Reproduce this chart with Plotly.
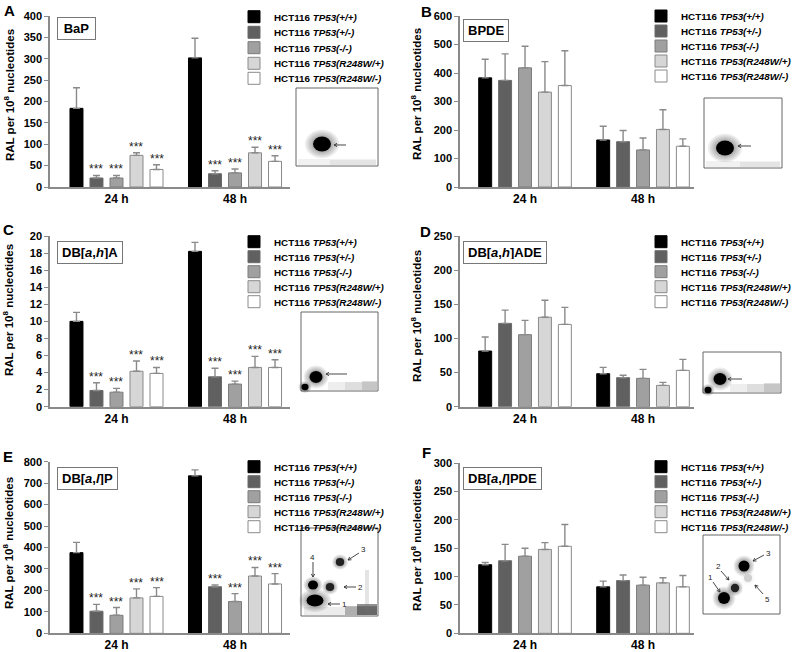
import math
import plotly.graph_objects as go

W, H = 793, 652
FONT = "Liberation Sans, Arial, sans-serif"

# ---------------- data ----------------
cell_lines = ["TP53(+/+)", "TP53(+/-)", "TP53(-/-)", "TP53(R248W/+)", "TP53(R248W/-)"]
time_points = ["24 h", "48 h"]

bap_24 = [184, 21, 21, 74, 41]
bap_24_sd = [48, 6, 6, 6, 11]
bap_48 = [302, 31, 33, 80, 60]
bap_48_sd = [46, 7, 9, 13, 13]
bap_sig = [False, True, True, True, True]

bpde_24 = [383, 374, 418, 333, 356]
bpde_24_sd = [65, 93, 76, 107, 122]
bpde_48 = [165, 159, 130, 202, 143]
bpde_48_sd = [48, 39, 42, 69, 26]
bpde_sig = [False, False, False, False, False]

dbaha_24 = [10.0, 1.9, 1.7, 4.15, 3.9]
dbaha_24_sd = [1.05, 0.9, 0.45, 1.2, 0.7]
dbaha_48 = [18.2, 3.5, 2.65, 4.6, 4.6]
dbaha_48_sd = [1.05, 1.0, 0.35, 1.3, 0.9]
dbaha_sig = [False, True, True, True, True]

dbahade_24 = [81.5, 122, 105.5, 131, 120.5]
dbahade_24_sd = [20.5, 19.5, 21, 25, 25]
dbahade_48 = [48.3, 42.5, 41.5, 31.2, 53.2]
dbahade_48_sd = [9.3, 3.5, 13.2, 4.4, 16.1]
dbahade_sig = [False, False, False, False, False]

dbalp_24 = [376, 103, 84, 165, 172]
dbalp_24_sd = [48, 32, 36, 42, 41]
dbalp_48 = [734, 217, 148, 267, 230]
dbalp_48_sd = [28, 8, 37, 40, 48]
dbalp_sig = [False, True, True, True, True]

dbalpde_24 = [121, 128, 136, 148, 153.5]
dbalpde_24_sd = [4, 29, 14, 12, 38.5]
dbalpde_48 = [82, 93, 85, 89, 82]
dbalpde_48_sd = [10, 10, 14, 9, 20]
dbalpde_sig = [False, False, False, False, False]

# ---------------- styling / layout config ----------------
bar_colors = ["#000000", "#606060", "#a0a0a0", "#d6d6d6", "#ffffff"]
bar_lines = ["#000000", "#6a6a6a", "#7c7c7c", "#8a8a8a", "#8a8a8a"]
AX = "#8a8a8a"
BARGAP = 0.156
BARGROUPGAP = 0.35

panels = [
    dict(letter="A", label="<b>BaP</b>", d24=bap_24, s24=bap_24_sd, d48=bap_48, s48=bap_48_sd, sig=bap_sig,
         ymax=400, dtick=50, px=(50, 290), py=(16, 187), xr=(-0.561, 1.464),
         let_xy=(9.5, 10), box_xy=(57, 17), box_w=29, title_xy=(9, 95),
         leg_x=234, leg_y=[16.7, 32.3, 47.7, 63.3, 78.3]),
    dict(letter="B", label="<b>BPDE</b>", d24=bpde_24, s24=bpde_24_sd, d48=bpde_48, s48=bpde_48_sd, sig=bpde_sig,
         ymax=600, dtick=100, px=(460, 694), py=(16, 187), xr=(-0.551, 1.432),
         let_xy=(426, 11), box_xy=(463, 19), box_w=None, title_xy=(416, 94),
         leg_x=641, leg_y=[16, 31, 46, 61, 76]),
    dict(letter="C", label="<b>DB[<i>a</i>,<i>h</i>]A</b>", d24=dbaha_24, s24=dbaha_24_sd, d48=dbaha_48, s48=dbaha_48_sd, sig=dbaha_sig,
         ymax=20, dtick=2, px=(50, 290), py=(236, 406.7), xr=(-0.561, 1.464),
         let_xy=(8, 229), box_xy=(57, 241), box_w=None, title_xy=(8, 310),
         leg_x=234, leg_y=[241.7, 256.7, 271.7, 286.7, 301.7]),
    dict(letter="D", label="<b>DB[<i>a</i>,<i>h</i>]ADE</b>", d24=dbahade_24, s24=dbahade_24_sd, d48=dbahade_48, s48=dbahade_48_sd, sig=dbahade_sig,
         ymax=250, dtick=50, px=(460, 694), py=(236, 406.7), xr=(-0.551, 1.432),
         let_xy=(425, 231), box_xy=(463, 241), box_w=None, title_xy=(416, 316),
         leg_x=641, leg_y=[241.7, 256.7, 271.7, 286.7, 301.7]),
    dict(letter="E", label="<b>DB[<i>a</i>,<i>l</i>]P</b>", d24=dbalp_24, s24=dbalp_24_sd, d48=dbalp_48, s48=dbalp_48_sd, sig=dbalp_sig,
         ymax=800, dtick=100, px=(50, 290), py=(461.7, 633.3), xr=(-0.561, 1.464),
         let_xy=(8, 456), box_xy=(57, 467), box_w=None, title_xy=(8, 543),
         leg_x=234, leg_y=[466.7, 481.7, 496.7, 511.7, 526.7]),
    dict(letter="F", label="<b>DB[<i>a</i>,<i>l</i>]PDE</b>", d24=dbalpde_24, s24=dbalpde_24_sd, d48=dbalpde_48, s48=dbalpde_48_sd, sig=dbalpde_sig,
         ymax=300, dtick=50, px=(460, 694), py=(463.3, 633.3), xr=(-0.551, 1.432),
         let_xy=(426, 452), box_xy=(463, 467), box_w=None, title_xy=(416, 545),
         leg_x=641, leg_y=[466.7, 481.7, 496.7, 511.7, 526.7]),
]

fig = go.Figure()
layout = dict(
    width=W, height=H,
    margin=dict(l=0, r=0, t=0, b=0, autoexpand=False),
    paper_bgcolor="white", plot_bgcolor="white",
    barmode="group", bargap=BARGAP, bargroupgap=BARGROUPGAP,
    font=dict(family=FONT, color="black"),
    showlegend=True,
)
annotations = []
shapes = []

leg_count = 0
for k, p in enumerate(panels):
    n = "" if k == 0 else str(k + 1)
    xa, ya = "x" + n, "y" + n
    layout["xaxis" + n] = dict(
        domain=[p["px"][0] / W, p["px"][1] / W], anchor=ya, range=list(p["xr"]),
        tickvals=[0, 1], ticktext=time_points, ticks="", showgrid=False, zeroline=False,
        showline=True, linecolor=AX, linewidth=1.5,
        tickfont=dict(size=12, family=FONT, weight="bold", color="black"),
    )
    layout["yaxis" + n] = dict(
        domain=[1 - p["py"][1] / H, 1 - p["py"][0] / H], anchor=xa, range=[0, p["ymax"]],
        dtick=p["dtick"], tick0=0, ticks="outside", ticklen=4, tickwidth=1.2, tickcolor=AX,
        showgrid=False, zeroline=False, showline=True, linecolor=AX, linewidth=1.5,
        tickfont=dict(size=11, family=FONT, weight="bold", color="black"),
    )
    for i, cl in enumerate(cell_lines):
        leg_count += 1
        lid = "legend" if leg_count == 1 else "legend" + str(leg_count)
        fig.add_trace(go.Bar(
            x=[0, 1], y=[p["d24"][i], p["d48"][i]],
            name="<b>HCT116 <i>" + cl + "</i></b>",
            marker=dict(color=bar_colors[i], line=dict(color=bar_lines[i], width=1)),
            error_y=dict(type="data", symmetric=False, array=[p["s24"][i], p["s48"][i]],
                         arrayminus=[0, 0], color=AX, thickness=1.4, width=3.5),
            xaxis=xa, yaxis=ya, offsetgroup=str(i), legend=lid, hoverinfo="skip",
        ))
        layout[lid] = dict(
            x=p["leg_x"] / W, y=1 - p["leg_y"][i] / H, xanchor="left", yanchor="middle",
            bgcolor="rgba(0,0,0,0)", borderwidth=0, font=dict(size=9.8, family=FONT, color="black"),
            itemclick=False, itemdoubleclick=False,
        )
        if p["sig"][i]:
            off = (i - 2) * (1 - BARGAP) / 5
            for g, (dv, sv) in enumerate(zip([p["d24"][i], p["d48"][i]], [p["s24"][i], p["s48"][i]])):
                annotations.append(dict(
                    x=g + off, y=dv + sv, xref=xa, yref=ya, text="***", showarrow=False,
                    yanchor="bottom", yshift=-3, font=dict(size=12, family=FONT, color="#222"),
                ))
    annotations.append(dict(x=p["let_xy"][0] / W, y=1 - p["let_xy"][1] / H, xref="paper", yref="paper",
                            text="<b>" + p["letter"] + "</b>", showarrow=False, xanchor="center", yanchor="middle",
                            font=dict(size=15, family=FONT, color="black")))
    box = dict(x=p["box_xy"][0] / W, y=1 - p["box_xy"][1] / H, xref="paper", yref="paper",
               text=p["label"], showarrow=False, xanchor="left", yanchor="top",
               font=dict(size=13, family=FONT, color="black"), bordercolor="#777", borderwidth=1,
               borderpad=4, bgcolor="white", height=13)
    if p["box_w"]:
        box["width"] = p["box_w"]
    annotations.append(box)
    annotations.append(dict(x=p["title_xy"][0] / W, y=1 - p["title_xy"][1] / H, xref="paper", yref="paper",
                            text="<b>RAL per 10<sup>8</sup> nucleotides</b>", showarrow=False, textangle=-90,
                            xanchor="center", yanchor="middle", font=dict(size=11.5, family=FONT, color="black")))

# ---------------- autoradiograph insets (decorative) ----------------
def X(v):
    return v / W

def Y(v):
    return 1 - v / H

def rect(x0, y0, x1, y1, fill="white", line="#666", lw=1, op=1):
    shapes.append(dict(type="rect", xref="paper", yref="paper", x0=X(x0), x1=X(x1),
                       y0=Y(y1), y1=Y(y0), fillcolor=fill, opacity=op,
                       line=dict(color=line, width=lw)))

def band(x0, y0, x1, y1, fill, op):
    shapes.append(dict(type="rect", xref="paper", yref="paper", x0=X(x0), x1=X(x1),
                       y0=Y(y1), y1=Y(y0), fillcolor=fill, opacity=op, line=dict(width=0)))

def spot(cx, cy, rx, ry, core="#000", halo=0.07):
    for s in [1.9, 1.7, 1.5, 1.3, 1.15]:
        shapes.append(dict(type="circle", xref="paper", yref="paper",
                           x0=X(cx - rx * s), x1=X(cx + rx * s), y0=Y(cy + ry * s), y1=Y(cy - ry * s),
                           fillcolor=core, opacity=halo, line=dict(width=0)))
    shapes.append(dict(type="circle", xref="paper", yref="paper",
                       x0=X(cx - rx), x1=X(cx + rx), y0=Y(cy + ry), y1=Y(cy - ry),
                       fillcolor=core, opacity=1, line=dict(width=0)))

def arrow(hx, hy, tx, ty, hl=3.5):
    dx, dy = tx - hx, ty - hy
    L = math.hypot(dx, dy)
    ux, uy = dx / L, dy / L
    pts = []
    for a in (0.5, -0.5):
        c, s = math.cos(a), math.sin(a)
        pts.append((hx + hl * (ux * c - uy * s), hy + hl * (ux * s + uy * c)))
    path = "M{:.5f},{:.5f} L{:.5f},{:.5f} M{:.5f},{:.5f} L{:.5f},{:.5f} L{:.5f},{:.5f}".format(
        X(tx), Y(ty), X(hx), Y(hy), X(pts[0][0]), Y(pts[0][1]), X(hx), Y(hy), X(pts[1][0]), Y(pts[1][1]))
    shapes.append(dict(type="path", xref="paper", yref="paper", path=path,
                       line=dict(color="#333", width=0.9)))

def num(x, y, t):
    annotations.append(dict(x=X(x), y=Y(y), xref="paper", yref="paper", text=t, showarrow=False,
                            xanchor="center", yanchor="middle", font=dict(size=8, family=FONT, color="#222")))

# A
rect(296, 88, 378, 166)
band(298, 159, 376, 165, "#d0d0d0", 0.3)
band(330, 160, 376, 165, "#c0c0c0", 0.25)
spot(322, 144, 9, 7.5)
arrow(334, 145, 346, 145)
# B
rect(704, 98, 782, 168)
band(706, 161, 780, 167, "#d0d0d0", 0.3)
band(740, 162, 780, 167, "#c0c0c0", 0.25)
spot(725, 148, 9, 7.5)
arrow(738, 146, 751, 146)
# C
rect(301, 312, 378, 391)
band(328, 382, 377, 390, "#c8c8c8", 0.3)
band(345, 382, 377, 390, "#b0b0b0", 0.25)
band(362, 381, 377, 390, "#909090", 0.3)
spot(316, 377, 6.5, 6)
spot(305, 387, 3.5, 3.2)
arrow(326, 374, 347, 374)
# D
rect(703, 352, 781, 393)
band(730, 384, 780, 392, "#c8c8c8", 0.3)
band(747, 384, 780, 392, "#b0b0b0", 0.25)
band(764, 383, 780, 392, "#909090", 0.3)
spot(720, 379, 6.5, 6)
spot(708, 390, 3.5, 3.2)
arrow(728, 379, 742, 379)
# E
rect(301, 528, 378, 616)
band(304, 607, 377, 615, "#c0c0c0", 0.3)
band(345, 606, 377, 615, "#555", 0.4)
band(357, 604, 377, 615, "#222", 0.5)
band(365, 570, 369, 612, "#777", 0.2)
spot(315, 600.5, 8.5, 6)
spot(313, 585, 5, 4.5)
spot(330, 587, 4.2, 4, core="#222", halo=0.08)
spot(340, 562, 4.2, 4, core="#222", halo=0.08)
num(363, 549, "3"); arrow(348, 560, 359, 553)
num(312, 557, "4"); arrow(313, 577, 313, 562)
num(360, 587, "2"); arrow(344, 587, 356, 587)
num(344, 604, "1"); arrow(328, 604, 340, 604)
# F
rect(703, 535, 780, 614)
spot(724, 598, 6, 6)
spot(735, 588, 4.2, 4.2, core="#222", halo=0.08)
spot(744, 566, 5.5, 5.5)
spot(748, 578, 4, 4, core="#d0d0d0", halo=0.04)
num(710, 577, "1"); arrow(720, 592, 713, 582)
num(718, 566, "2"); arrow(729, 580, 721, 571)
num(768, 553, "3"); arrow(753, 561, 764, 555)
num(767, 599, "5"); arrow(755, 585, 763, 594)

layout["annotations"] = annotations
layout["shapes"] = shapes
fig.update_layout(**layout)
fig.write_html("out.html", config={"displayModeBar": False},
               post_script="document.body.style.margin='0px';document.body.style.padding='0px';")
